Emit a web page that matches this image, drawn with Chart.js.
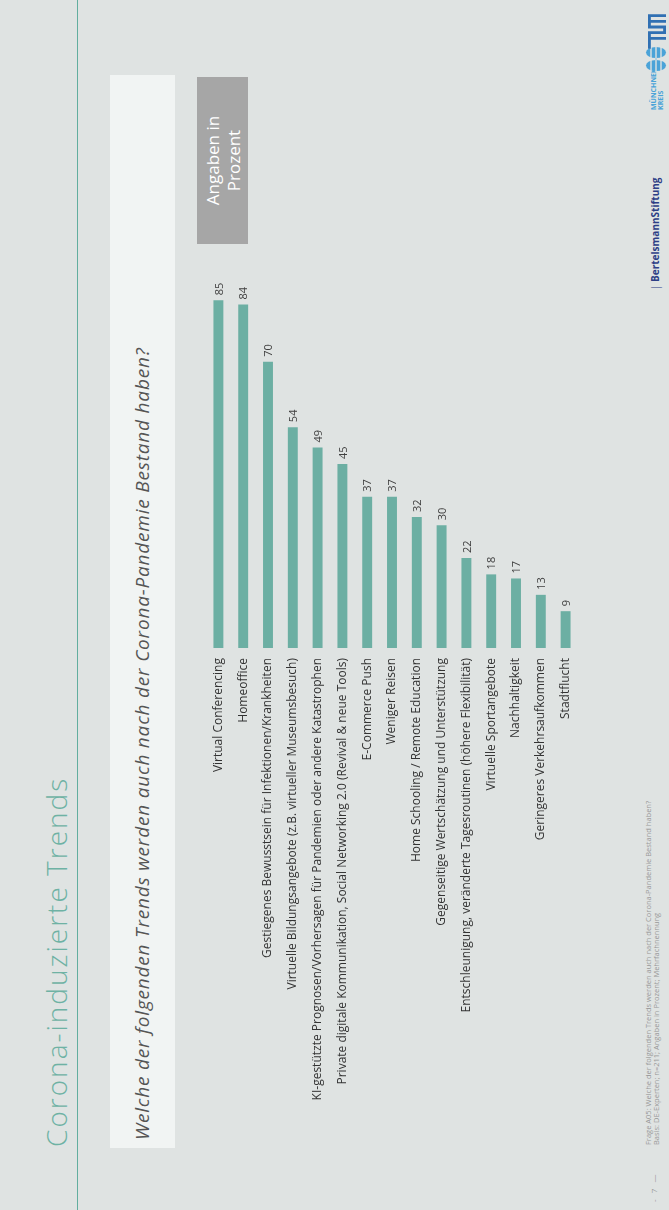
<!DOCTYPE html>
<html>
<head>
<meta charset="utf-8">
<script src="https://cdn.jsdelivr.net/npm/chart.js@4.4.1/dist/chart.umd.min.js"></script>
<style>
  html, body { margin:0; padding:0; width:669px; height:1210px; overflow:hidden; background:#dfe3e2; }
  /* Folie liegt quer, wird um -90° gedreht */
  #slide { position:absolute; left:0; top:1210px; width:1210px; height:669px;
           transform-origin:0 0; transform:rotate(-90deg);
           background:#dfe3e2; font-family:'Open Sans', sans-serif; overflow:hidden; }
  #title { position:absolute; left:63px; top:36px; font-size:28px; font-weight:300;
           letter-spacing:2px; color:#6eb2a4; white-space:nowrap; line-height:40px; }
  #rule { position:absolute; left:0; top:77px; width:1210px; height:1px; background:#62ae9f; }
  #question { position:absolute; left:62px; top:110px; width:1073px; height:65px; background:#f1f4f3; }
  #question span { position:absolute; left:8px; top:19px; font-size:19px; font-style:italic;
                   letter-spacing:0.8px; color:#555; white-space:nowrap; line-height:26px; }
  #unit { position:absolute; left:966px; top:197px; width:167px; height:51px; background:#a6a6a6;
          color:#fff; font-size:17px; line-height:21px; text-align:center;
          display:flex; align-items:center; justify-content:center; }
  #note { position:absolute; left:65px; top:644px; font-size:7.5px; line-height:8px; color:#999; white-space:nowrap; }
  #page { position:absolute; left:8px; top:648px; font-size:8px; color:#999; white-space:nowrap; }
  #bst { position:absolute; left:920px; top:648px; font-size:10px; font-weight:bold; color:#2d3e86; white-space:nowrap; }
  #mk { position:absolute; left:1100px; top:650px; font-size:7px; line-height:7px; color:#4aa3d8; font-weight:bold; }
  #mkIcon { position:absolute; left:1138px; top:645px; }
  #tum { position:absolute; left:1161px; top:648px; }
  /* Diagramm bleibt ungedreht, Beschriftungen stehen senkrecht */
  #chartBox { position:absolute; left:206px; top:239px; width:372px; height:879px; }
</style>
</head>
<body>
<div id="slide">
  <div id="title">Corona-induzierte Trends</div>
  <div id="rule"></div>
  <div id="question"><span>Welche der folgenden Trends werden auch nach der Corona-Pandemie Bestand haben?</span></div>
  <div id="unit">Angaben in<br>Prozent</div>
  <div id="page">-&nbsp;&nbsp;&nbsp;7&nbsp;&nbsp;&nbsp;—</div>
  <div id="note">Frage A05: Welche der folgenden Trends werden auch nach der Corona-Pandemie Bestand haben?<br>Basis: DE-Experten; n=211; Angaben in Prozent; Mehrfachnennung</div>
  <div id="bst"><span style="font-weight:normal">|</span> BertelsmannStiftung</div>
  <div id="mk">MÜNCHNER<br>KREIS</div>
  <svg id="mkIcon" width="26" height="22" viewBox="0 0 26 22">
    <g fill="#4aa3d8">
      <ellipse cx="6.5" cy="11" rx="5.5" ry="10"/>
      <ellipse cx="19.5" cy="11" rx="5.5" ry="10"/>
      <rect x="11" y="10" width="4" height="2"/>
    </g>
    <g stroke="#dfe3e2" stroke-width="1.4">
      <line x1="0" y1="6" x2="26" y2="6"/><line x1="0" y1="11" x2="26" y2="11"/><line x1="0" y1="16" x2="26" y2="16"/>
    </g>
  </svg>
  <svg id="tum" width="35" height="18" viewBox="0 0 73 38">
    <path fill="#3070b3" d="M0 0H37V32H43V0H73V38H67V6H61V38H55V6H49V38H31V6H25V38H19V6H0Z"/>
  </svg>
</div>
<div id="chartBox"><canvas id="chartTrends" width="372" height="879"></canvas></div>

<script>
// Trends (Mehrfachnennung, Angaben in Prozent)
const trendLabels = [
  'Virtual Conferencing',
  'Homeoffice',
  'Gestiegenes Bewusstsein für Infektionen/Krankheiten',
  'Virtuelle Bildungsangebote (z.B. virtueller Museumsbesuch)',
  'KI-gestützte Prognosen/Vorhersagen für Pandemien oder andere Katastrophen',
  'Private digitale Kommunikation, Social Networking 2.0 (Revival & neue Tools)',
  'E-Commerce Push',
  'Weniger Reisen',
  'Home Schooling / Remote Education',
  'Gegenseitige Wertschätzung und Unterstützung',
  'Entschleunigung, veränderte Tagesroutinen (höhere Flexibilität)',
  'Virtuelle Sportangebote',
  'Nachhaltigkeit',
  'Geringeres Verkehrsaufkommen',
  'Stadtflucht'
];
const trendValues = [85, 84, 70, 54, 49, 45, 37, 37, 32, 30, 22, 18, 17, 13, 9];

const axisMin = 0;
const axisMax = 100;

// Zahlen über den Balken, senkrecht gesetzt
const valueLabels = {
  id: 'valueLabels',
  afterDatasetsDraw(chart) {
    const ctx = chart.ctx;
    const data = chart.data.datasets[0].data;
    chart.getDatasetMeta(0).data.forEach((bar, i) => {
      ctx.save();
      ctx.translate(bar.x + 1, bar.y - 5);
      ctx.rotate(-Math.PI / 2);
      ctx.font = '11px "Open Sans"';
      ctx.fillStyle = '#404040';
      ctx.textAlign = 'left';
      ctx.textBaseline = 'middle';
      ctx.fillText(String(data[i]), 0, 0);
      ctx.restore();
    });
  }
};

new Chart(document.getElementById('chartTrends'), {
  type: 'bar',
  data: {
    labels: trendLabels,
    datasets: [{
      data: trendValues,
      backgroundColor: '#6cafa3',
      barPercentage: 0.4,
      categoryPercentage: 1.0
    }]
  },
  options: {
    responsive: false,
    animation: false,
    layout: { padding: 0 },
    plugins: { legend: { display: false }, tooltip: { enabled: false } },
    scales: {
      y: { display: false, min: axisMin, max: axisMax },
      x: {
        grid: { display: false, drawTicks: false },
        border: { display: false },
        afterFit: (scale) => {
          scale.height = 470;
          scale.paddingLeft = 0;
          scale.paddingRight = 0;
        },
        ticks: {
          padding: 10,
          autoSkip: false,
          minRotation: 90,
          maxRotation: 90,
          color: '#333',
          font: { family: 'Open Sans', size: 12 }
        }
      }
    }
  },
  plugins: [valueLabels]
});
</script>
</body>
</html>
